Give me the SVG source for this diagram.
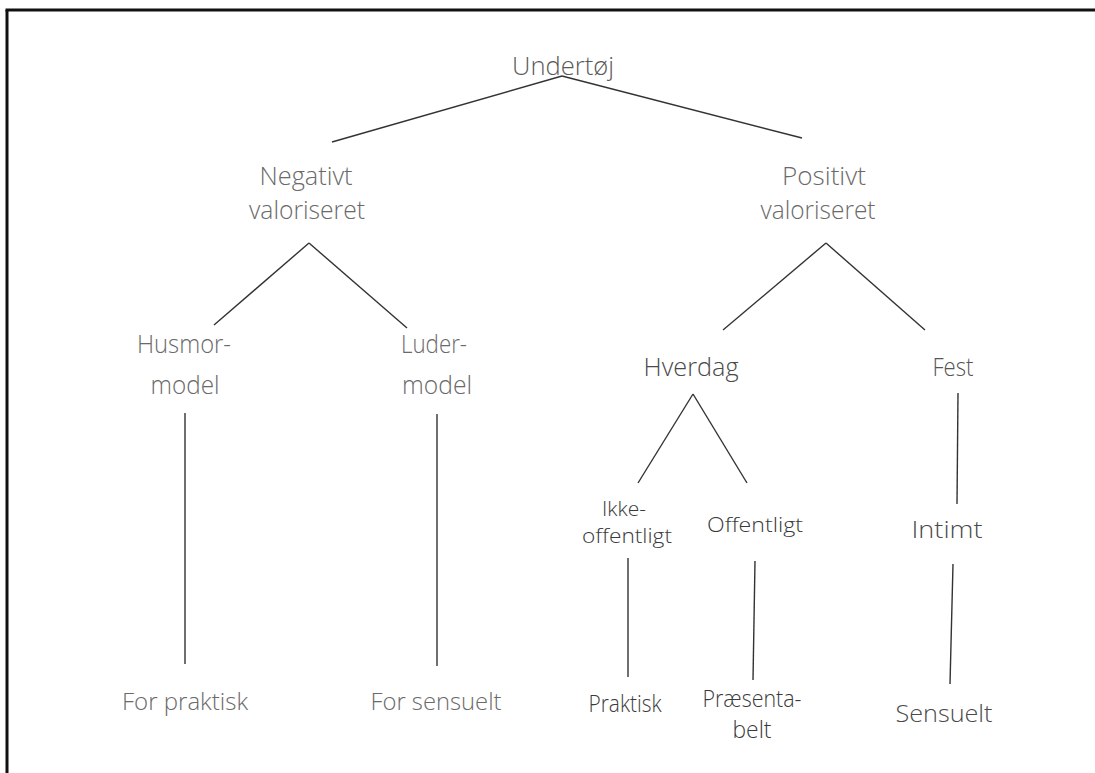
<svg xmlns="http://www.w3.org/2000/svg" width="1095" height="773" viewBox="0 0 1095 773">
<style>
text{font-family:"Open Sans","Noto Sans","Liberation Sans",sans-serif;font-weight:300;text-anchor:middle}
.t1{font-size:25px;fill:#5a5a5a}
.t2{font-size:25px;fill:#6a6a6a}
.t3{font-size:21px;fill:#3a3a3a}
.t5{font-size:23px;fill:#3a3a3a}
.t4{font-size:24px;fill:#4a4a4a}
#connectors line{stroke:#333;stroke-width:1.4;fill:none}
</style>
<rect x="0" y="0" width="1095" height="773" fill="#fff"/>
<g id="frame" stroke="#111" stroke-width="3" fill="none">
<line x1="7" y1="10" x2="7" y2="773"/>
<line x1="5.5" y1="10" x2="1095" y2="10"/>
</g>
<g id="connectors">
<line x1="562" y1="76" x2="332" y2="142"/>
<line x1="562" y1="76" x2="802" y2="138"/>
<line x1="309" y1="243" x2="214" y2="325"/>
<line x1="309" y1="243" x2="407" y2="328"/>
<line x1="826" y1="243" x2="723" y2="330"/>
<line x1="826" y1="243" x2="925" y2="330"/>
<line x1="185" y1="413" x2="185" y2="664"/>
<line x1="437" y1="414" x2="437" y2="666"/>
<line x1="693" y1="394" x2="638" y2="483"/>
<line x1="693" y1="394" x2="747" y2="483"/>
<line x1="958" y1="393" x2="957" y2="504"/>
<line x1="628" y1="558" x2="628" y2="677"/>
<line x1="755" y1="561" x2="753" y2="680"/>
<line x1="953" y1="564" x2="950" y2="684"/>
</g>
<g id="n-undertoj"><text class="t1" x="563" y="75" textLength="102" lengthAdjust="spacingAndGlyphs">Undertøj</text></g>
<g id="n-negativt"><text class="t2" x="306" y="185" textLength="93" lengthAdjust="spacingAndGlyphs">Negativt</text><text class="t2" x="307" y="219" textLength="116" lengthAdjust="spacingAndGlyphs">valoriseret</text></g>
<g id="n-positivt"><text class="t2" x="824" y="185" textLength="84" lengthAdjust="spacingAndGlyphs">Positivt</text><text class="t2" x="818" y="219" textLength="115" lengthAdjust="spacingAndGlyphs">valoriseret</text></g>
<g id="n-husmor"><text class="t2" x="184" y="353" textLength="94" lengthAdjust="spacingAndGlyphs">Husmor-</text><text class="t2" x="185" y="394" textLength="69" lengthAdjust="spacingAndGlyphs">model</text></g>
<g id="n-luder"><text class="t2" x="434" y="353" textLength="66" lengthAdjust="spacingAndGlyphs">Luder-</text><text class="t2" x="437" y="394" textLength="70" lengthAdjust="spacingAndGlyphs">model</text></g>
<g id="n-hverdag"><text class="t2" x="691" y="376" style="fill:#4a4a4a" textLength="95" lengthAdjust="spacingAndGlyphs">Hverdag</text></g>
<g id="n-fest"><text class="t2" x="953" y="376" style="fill:#555" textLength="41" lengthAdjust="spacingAndGlyphs">Fest</text></g>
<g id="n-ikke"><text class="t3" x="624" y="516">Ikke-</text><text class="t3" x="627" y="543" textLength="90" lengthAdjust="spacingAndGlyphs">offentligt</text></g>
<g id="n-offentligt"><text class="t3" x="755" y="532" textLength="96" lengthAdjust="spacingAndGlyphs">Offentligt</text></g>
<g id="n-intimt"><text class="t4" x="947" y="538" textLength="71" lengthAdjust="spacingAndGlyphs">Intimt</text></g>
<g id="n-forpraktisk"><text class="t2" x="185" y="710" style="font-size:24px" textLength="126" lengthAdjust="spacingAndGlyphs">For praktisk</text></g>
<g id="n-forsensuelt"><text class="t2" x="436" y="710" style="font-size:24px" textLength="131" lengthAdjust="spacingAndGlyphs">For sensuelt</text></g>
<g id="n-praktisk"><text class="t5" x="625" y="712" textLength="73" lengthAdjust="spacingAndGlyphs">Praktisk</text></g>
<g id="n-praesentabelt"><text class="t5" x="752" y="707" textLength="99" lengthAdjust="spacingAndGlyphs">Præsenta-</text><text class="t5" x="752" y="738" textLength="39" lengthAdjust="spacingAndGlyphs">belt</text></g>
<g id="n-sensuelt"><text class="t4" x="944" y="722" textLength="97" lengthAdjust="spacingAndGlyphs">Sensuelt</text></g>
</svg>
